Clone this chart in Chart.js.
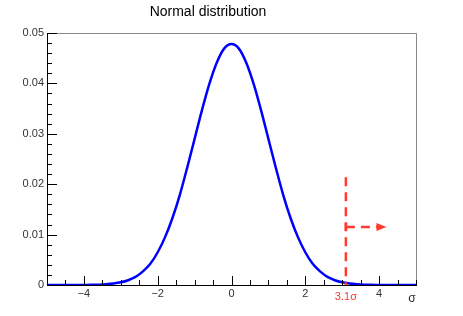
<!DOCTYPE html>
<html>
<head>
<meta charset="utf-8">
<script src="https://cdn.jsdelivr.net/npm/chart.js@4"></script>
<style>
  html, body { margin: 0; padding: 0; background: #fff; }
  #wrap { width: 463px; height: 316px; }
</style>
</head>
<body>
<div id="wrap"><canvas id="chart" width="463" height="316"></canvas></div>
<script>
// values
const xValues = [-5.0, -4.8, -4.6, -4.4, -4.2, -4.0, -3.8, -3.6, -3.4, -3.2,
                 -3.0, -2.8, -2.6, -2.4, -2.2, -2.0, -1.8, -1.6, -1.4, -1.2,
                 -1.0, -0.8, -0.6, -0.4, -0.2, 0.0, 0.2, 0.4, 0.6, 0.8,
                 1.0, 1.2, 1.4, 1.6, 1.8, 2.0, 2.2, 2.4, 2.6, 2.8,
                 3.0, 3.2, 3.4, 3.6, 3.8, 4.0, 4.2, 4.4, 4.6, 4.8, 5.0];
const yValues = [0, 0, 0, 0, 0.00001, 0.00002, 0.00003, 0.00007, 0.00015, 0.00029,
                 0.00053, 0.00095, 0.0016, 0.0027, 0.0042, 0.0065, 0.0095, 0.0133, 0.0179, 0.0233,
                 0.0290, 0.0347, 0.0399, 0.0441, 0.0469, 0.0478, 0.0469, 0.0441, 0.0399, 0.0347,
                 0.0290, 0.0233, 0.0179, 0.0133, 0.0095, 0.0065, 0.0042, 0.0027, 0.0016, 0.00095,
                 0.00053, 0.00029, 0.00015, 0.00007, 0.00003, 0.00002, 0.00001, 0, 0, 0, 0];
const xMajorTicks = [-4, -2, 0, 2, 4];
const yMajorTicks = [0, 0.01, 0.02, 0.03, 0.04, 0.05];
const cutValue = 3.1;
const cutLabel = '3.1σ';
const cutTop = 0.0214;
const arrowLevel = 0.0115;
const arrowEnd = 4.2;

const points = xValues.map((x, i) => ({ x: x, y: yValues[i] }));

const frameAndTicks = {
  id: 'frameAndTicks',
  afterDraw(chart) {
    const ctx = chart.ctx;
    const xs = chart.scales.x, ys = chart.scales.y;
    const a = chart.chartArea;
    ctx.save();
    // gray frame on top and right
    ctx.strokeStyle = '#888';
    ctx.lineWidth = 1;
    ctx.beginPath();
    ctx.moveTo(a.left, a.top + 0.5);
    ctx.lineTo(a.right + 0.5, a.top + 0.5);
    ctx.lineTo(a.right + 0.5, a.bottom);
    ctx.stroke();
    // inner ticks
    ctx.strokeStyle = '#000';
    ctx.beginPath();
    for (let v = -5; v <= 5.001; v += 0.5) {
      const px = Math.round(xs.getPixelForValue(v)) + 0.5;
      const major = xMajorTicks.some(t => Math.abs(t - v) < 1e-6);
      ctx.moveTo(px, a.bottom);
      ctx.lineTo(px, a.bottom - (major ? 9 : 5));
    }
    for (let v = 0; v <= 0.0501; v += 0.002) {
      const py = Math.round(ys.getPixelForValue(v)) + 0.5;
      const major = yMajorTicks.some(t => Math.abs(t - v) < 1e-7);
      ctx.moveTo(a.left, py);
      ctx.lineTo(a.left + (major ? 10 : 5), py);
    }
    ctx.stroke();

    // cut line and arrow
    const red = '#ff3b30';
    const cx = xs.getPixelForValue(cutValue);
    const ay = ys.getPixelForValue(arrowLevel);
    const ex = xs.getPixelForValue(arrowEnd);
    ctx.strokeStyle = red;
    ctx.lineWidth = 2.5;
    ctx.setLineDash([9, 6]);
    ctx.beginPath();
    ctx.moveTo(cx, ys.getPixelForValue(cutTop));
    ctx.lineTo(cx, a.bottom);
    ctx.stroke();
    ctx.beginPath();
    ctx.moveTo(cx, ay);
    ctx.lineTo(ex - 8, ay);
    ctx.stroke();
    ctx.setLineDash([]);
    ctx.beginPath();
    ctx.moveTo(cx, ay - 4);
    ctx.lineTo(cx, ay + 4);
    ctx.stroke();
    ctx.fillStyle = red;
    ctx.beginPath();
    ctx.moveTo(ex, ay);
    ctx.lineTo(ex - 10, ay - 4);
    ctx.lineTo(ex - 10, ay + 4);
    ctx.closePath();
    ctx.fill();

    ctx.font = '11px "Liberation Sans", Arial, sans-serif';
    ctx.textAlign = 'center';
    ctx.textBaseline = 'middle';
    ctx.fillText(cutLabel, cx, a.bottom + 12);
    ctx.fillStyle = '#333';
    ctx.font = '12px "Liberation Sans", Arial, sans-serif';
    ctx.fillText('σ', a.right - 4, a.bottom + 14);
    ctx.restore();
  }
};

new Chart(document.getElementById('chart'), {
  type: 'scatter',
  data: {
    datasets: [{
      data: points,
      showLine: true,
      borderColor: '#0000ff',
      borderWidth: 2.5,
      pointRadius: 0,
      cubicInterpolationMode: 'monotone'
    }]
  },
  options: {
    responsive: false,
    animation: false,
    layout: { padding: { left: 0, right: 47, top: 0, bottom: 0 } },
    plugins: {
      legend: { display: false },
      tooltip: { enabled: false },
      title: {
        display: true,
        text: 'Normal distribution',
        color: '#000',
        font: { family: '"Liberation Sans", Arial, sans-serif', size: 14, weight: 'normal' },
        padding: { top: 4, bottom: 12.2 }
      }
    },
    scales: {
      x: {
        type: 'linear',
        min: -5,
        max: 5,
        afterFit(s) { s.height = 31; },
        afterBuildTicks(s) { s.ticks = xMajorTicks.map(v => ({ value: v })); },
        grid: { display: false, drawTicks: false },
        border: { display: true, color: '#000', width: 1 },
        ticks: {
          color: '#333',
          padding: 2,
          font: { family: '"Liberation Sans", Arial, sans-serif', size: 11 },
          callback: v => v === 0 ? '0' : String(v).replace('-', '\u2212')
        }
      },
      y: {
        min: 0,
        max: 0.05,
        afterFit(s) { s.width = 47; },
        afterBuildTicks(s) { s.ticks = yMajorTicks.map(v => ({ value: v })); },
        grid: { display: false, drawTicks: false },
        border: { display: true, color: '#000', width: 1 },
        ticks: {
          color: '#333',
          padding: 3,
          font: { family: '"Liberation Sans", Arial, sans-serif', size: 11 },
          callback: v => v === 0 ? '0' : v.toFixed(2)
        }
      }
    }
  },
  plugins: [frameAndTicks]
});
</script>
</body>
</html>
